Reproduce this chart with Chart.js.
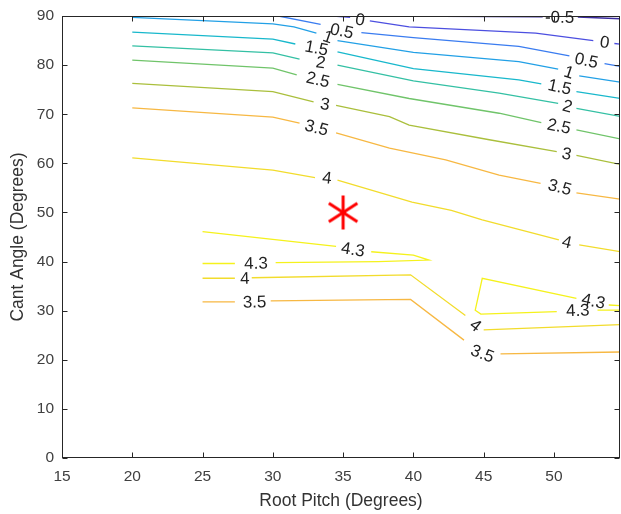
<!DOCTYPE html>
<html lang="en">
<head>
    <meta charset="UTF-8">
    <title>Cant Angle vs Root Pitch</title>
    <style>
        html, body { margin: 0; padding: 0; background: #fff; overflow: hidden; }
        #contour { display: block; }
    </style>
    <script src="https://cdn.jsdelivr.net/npm/chart.js"></script>
</head>
<body>
    <canvas id="contour" width="621" height="514"></canvas>
    <script>
        // tick labels
        const xTicks = [15, 20, 25, 30, 35, 40, 45, 50];
        const yTicks = [0, 10, 20, 30, 40, 50, 60, 70, 80, 90];

        // contour lines [root pitch, cant angle], null = gap where the label sits
        const lvM05 = [[38.5, 90], [49.2, 89.85], null, [51.7, 89.8], [55, 89.4]];
        const lv0 = [[34.3, 90], [35.5, 89.7], null, [36.9, 89.0], [39.7, 87.8], [48.7, 86.5], [52.8, 85.0], null, [54.3, 84.4], [55, 84.2]];
        const lv05 = [[30.4, 90], [33.4, 88.3], null, [36.3, 86.6], [40, 85.6], [47.5, 83.8], [51.1, 81.9], null, [53.6, 80.3], [55, 79.6]];
        const lv1 = [[20, 89.7], [30, 88.4], [31.5, 87.8], [33.1, 86.5], null, [34.6, 85.0], [40, 82.6], [47.5, 80.7], [50.3, 79.2], null, [51.8, 77.8], [55, 76.4]];
        const lv15 = [[20, 86.7], [30, 85.3], [31.6, 84.3], null, [34.6, 82.7], [40, 79.3], [47.5, 77.0], [49.1, 76.2], null, [51.6, 74.6], [55, 73.1]];
        const lv2 = [[20, 83.9], [30, 82.5], [31.9, 81.2], null, [34.6, 80.0], [40, 76.8], [46.1, 74.3], [50.3, 72.2], null, [51.6, 71.2], [55, 69.4]];
        const lv25 = [[20, 81.0], [30, 79.4], [31.7, 78.0], null, [34.6, 76.1], [39.7, 73.2], [46.1, 70.2], [49.1, 68.3], null, [51.6, 66.8], [55, 64.8]];
        const lv3 = [[20, 76.3], [30, 74.6], [32.9, 72.5], null, [34.5, 71.8], [38.3, 69.5], [39.7, 67.8], [45.4, 64.8], [50.2, 62.4], null, [51.6, 61.6], [55, 59.6]];
        const lv35 = [[20, 71.3], [30, 69.4], [31.9, 68.2], null, [34.5, 66.2], [38.3, 63.1], [42.3, 60.7], [46.1, 57.6], [49.05, 55.9], null, [51.6, 54.0], [55, 52.6]];
        const lv4 = [[20, 61.1], [30, 58.6], [33.0, 57.1], null, [34.6, 56.6], [39.9, 52.1], [42.7, 50.4], [44.9, 48.5], [50.35, 44.4], null, [51.8, 43.4], [55, 41.9]];
        const lv43a = [[25, 46.1], [34.5, 43.1], null, [37.0, 42.0], [40, 41.3], [41.1, 40.3], [37.5, 40.0], [30.2, 39.8], null, [27.3, 39.6], [25, 39.6]];
        const lv4b = [[25, 36.6], [27.3, 36.6], null, [28.5, 36.7], [39.8, 37.3], [43.7, 29.0], null, [45.0, 26.1], [55, 27.2]];
        const lv35b = [[25, 31.8], [27.3, 31.8], null, [29.85, 32.0], [39.8, 32.3], [43.6, 24.0], null, [46.2, 21.2], [55, 21.6]];
        const lv43b = [[55, 31.0], [53.9, 31.15], null, [51.6, 32.5], [44.9, 36.6], [44.4, 30.1], [44.8, 29.3], [50.2, 29.8], null, [53.1, 30.1], [55, 30.1]];

        // label anchor points, one per gap
        const lblM05 = [[50.4, 89.6]];
        const lbl0 = [[36.2, 89.1], [53.6, 84.5]];
        const lbl05 = [[34.9, 86.8], [52.3, 80.8]];
        const lbl1 = [[33.9, 85.6], [51.05, 78.4]];
        const lbl15 = [[33.1, 83.3], [50.4, 75.4]];
        const lbl2 = [[33.4, 80.4], [50.95, 71.5]];
        const lbl25 = [[33.2, 76.9], [50.35, 67.4]];
        const lbl3 = [[33.7, 71.9], [50.9, 61.8]];
        const lbl35 = [[33.1, 67.1], [50.4, 55.0]];
        const lbl4 = [[33.85, 56.9], [50.9, 43.8]];
        const lbl43a = [[35.7, 42.3], [28.8, 39.5]];
        const lbl4b = [[28.0, 36.4], [44.4, 26.9]];
        const lbl35b = [[28.7, 31.6], [44.9, 21.1]];
        const lbl43b = [[52.8, 31.8], [51.7, 29.9]];

        // design point
        const markerPt = [35, 50];

        const contours = [
            { text: '-0.5', pts: lvM05, labels: lblM05, color: '#3b2c9e' },
            { text: '0', pts: lv0, labels: lbl0, color: '#4c4fe0' },
            { text: '0.5', pts: lv05, labels: lbl05, color: '#3a7cf0' },
            { text: '1', pts: lv1, labels: lbl1, color: '#22a0e6' },
            { text: '1.5', pts: lv15, labels: lbl15, color: '#18b8cc' },
            { text: '2', pts: lv2, labels: lbl2, color: '#34c0a4' },
            { text: '2.5', pts: lv25, labels: lbl25, color: '#70c46a' },
            { text: '3', pts: lv3, labels: lbl3, color: '#aabf3c' },
            { text: '3.5', pts: lv35, labels: lbl35, color: '#f7b843' },
            { text: '4', pts: lv4, labels: lbl4, color: '#f2dc2c' },
            { text: '4.3', pts: lv43a, labels: lbl43a, color: '#f5f21c' },
            { text: '4', pts: lv4b, labels: lbl4b, color: '#f2dc2c' },
            { text: '3.5', pts: lv35b, labels: lbl35b, color: '#f7b843' },
            { text: '4.3', pts: lv43b, labels: lbl43b, color: '#f5f21c' }
        ];

        function toXY(pts) {
            return pts.map(p => p ? { x: p[0], y: p[1] } : { x: null, y: null });
        }

        function makeAsterisk() {
            const c = document.createElement('canvas');
            c.width = 42;
            c.height = 42;
            const g = c.getContext('2d');
            g.strokeStyle = '#ff0000';
            g.lineWidth = 3;
            const r = 17;
            [90, 33, -33].forEach(a => {
                const dx = r * Math.cos(a * Math.PI / 180);
                const dy = r * Math.sin(a * Math.PI / 180);
                g.beginPath();
                g.moveTo(21 - dx, 21 - dy);
                g.lineTo(21 + dx, 21 + dy);
                g.stroke();
            });
            return c;
        }

        // box, inward ticks and inline contour labels
        const contourDecor = {
            id: 'contourDecor',
            afterDatasetsDraw(chart) {
                const { ctx, chartArea: a, scales: { x, y } } = chart;
                const L = Math.round(a.left) + 0.5, R = Math.round(a.right) - 0.5;
                const T = Math.round(a.top) + 0.5, B = Math.round(a.bottom) - 0.5;
                const tl = 5;
                ctx.save();
                ctx.strokeStyle = '#262626';
                ctx.lineWidth = 1;
                ctx.strokeRect(L, T, R - L, B - T);
                ctx.beginPath();
                xTicks.forEach(v => {
                    const px = Math.round(x.getPixelForValue(v)) + 0.5;
                    ctx.moveTo(px, B); ctx.lineTo(px, B - tl);
                    ctx.moveTo(px, T); ctx.lineTo(px, T + tl);
                });
                yTicks.forEach(v => {
                    const py = Math.round(y.getPixelForValue(v)) + 0.5;
                    ctx.moveTo(L, py); ctx.lineTo(L + tl, py);
                    ctx.moveTo(R, py); ctx.lineTo(R - tl, py);
                });
                ctx.stroke();

                ctx.fillStyle = '#222';
                ctx.font = '17px "Liberation Sans", Arial, sans-serif';
                ctx.textAlign = 'center';
                ctx.textBaseline = 'middle';
                contours.forEach(c => {
                    let k = 0;
                    c.pts.forEach((p, i) => {
                        if (p !== null) return;
                        const lab = c.labels[k++];
                        if (!lab) return;
                        const p0 = c.pts[i - 1], p1 = c.pts[i + 1];
                        const dx = x.getPixelForValue(p1[0]) - x.getPixelForValue(p0[0]);
                        const dy = y.getPixelForValue(p1[1]) - y.getPixelForValue(p0[1]);
                        let ang = Math.atan2(dy, dx);
                        if (ang > Math.PI / 2) ang -= Math.PI;
                        if (ang < -Math.PI / 2) ang += Math.PI;
                        ctx.save();
                        ctx.translate(x.getPixelForValue(lab[0]), y.getPixelForValue(lab[1]));
                        ctx.rotate(ang);
                        ctx.fillText(c.text, 0, 0);
                        ctx.restore();
                    });
                });
                ctx.restore();
            }
        };

        const datasets = contours.map(c => ({
            data: toXY(c.pts),
            showLine: true,
            spanGaps: false,
            borderColor: c.color,
            borderWidth: 1.3,
            pointRadius: 0,
            pointHoverRadius: 0,
            tension: 0
        }));
        datasets.push({
            data: [{ x: markerPt[0], y: markerPt[1] }],
            showLine: false,
            pointStyle: makeAsterisk(),
            pointRadius: 10
        });

        const tickFont = { family: '"Liberation Sans", Arial, sans-serif', size: 15.5 };
        const titleFont = { family: '"Liberation Sans", Arial, sans-serif', size: 17.5 };

        new Chart(document.getElementById('contour'), {
            type: 'scatter',
            data: { datasets },
            options: {
                responsive: false,
                animation: false,
                events: [],
                layout: { autoPadding: false, padding: { top: 16, right: 1, left: 0, bottom: 0 } },
                plugins: { legend: { display: false }, tooltip: { enabled: false } },
                scales: {
                    x: {
                        type: 'linear',
                        min: 15,
                        max: 54.7,
                        afterBuildTicks: s => { s.ticks = xTicks.map(v => ({ value: v })); },
                        afterFit: s => { s.height = 56; s.paddingLeft = 0; s.paddingRight = 0; },
                        grid: { display: true, drawOnChartArea: false, drawTicks: false },
                        border: { display: false },
                        ticks: { color: '#404040', font: tickFont, padding: 9, maxRotation: 0 },
                        title: { display: true, text: 'Root Pitch (Degrees)', color: '#333', font: titleFont, padding: { top: 0, bottom: 2 } }
                    },
                    y: {
                        type: 'linear',
                        min: 0,
                        max: 90,
                        afterBuildTicks: s => { s.ticks = yTicks.map(v => ({ value: v })); },
                        afterFit: s => { s.width = 62; s.paddingTop = 0; s.paddingBottom = 0; },
                        grid: { display: true, drawOnChartArea: false, drawTicks: false },
                        border: { display: false },
                        ticks: { color: '#404040', font: tickFont, padding: 8 },
                        title: { display: true, text: 'Cant Angle (Degrees)', color: '#333', font: titleFont, padding: { top: 8, bottom: 0 } }
                    }
                }
            },
            plugins: [contourDecor]
        });
    </script>
</body>
</html>
